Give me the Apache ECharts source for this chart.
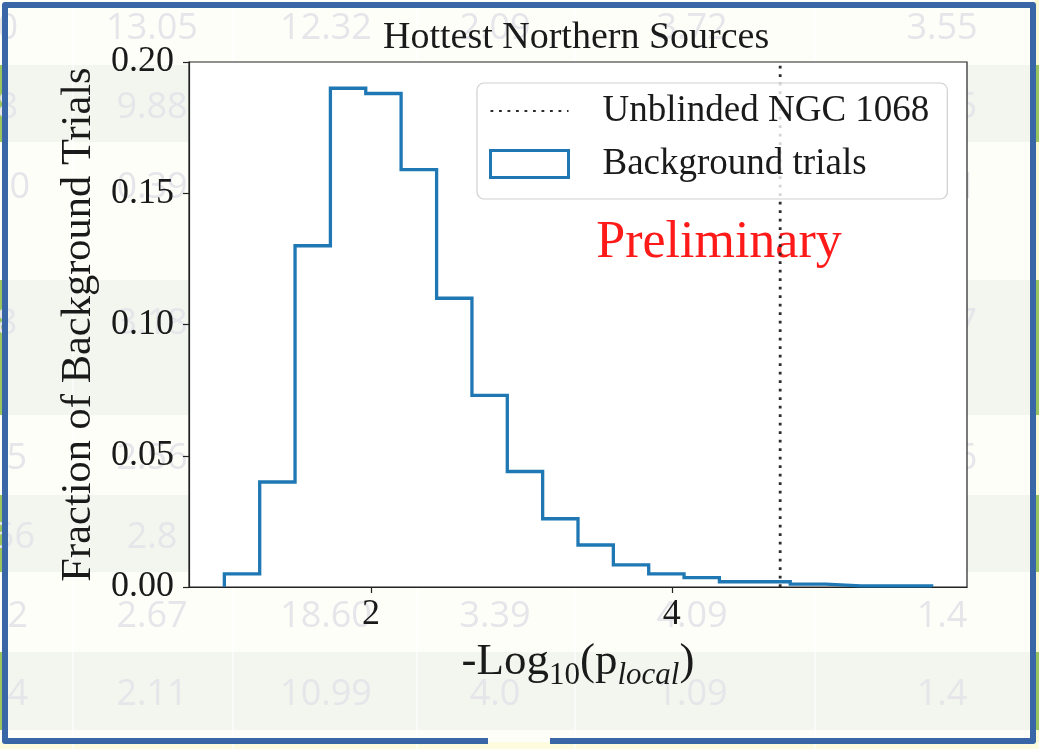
<!DOCTYPE html>
<html>
<head>
<meta charset="utf-8">
<script src="https://cdn.jsdelivr.net/npm/echarts@6/dist/echarts.min.js"></script>
<style>
  html, body { margin: 0; padding: 0; background: #fefef9; }
  #chart { width: 1039px; height: 749px; }
</style>
</head>
<body>
<div id="chart"></div>
<script>
// ---- histogram of background trials (fraction per bin) ----
const binEdges = [1.025, 1.260, 1.495, 1.730, 1.965, 2.200, 2.436, 2.671, 2.906, 3.141,
                  3.376, 3.611, 3.846, 4.081, 4.316, 4.552, 4.787, 5.022, 5.257, 5.492, 5.727];
const bgFraction = [0.005, 0.040, 0.130, 0.190, 0.188, 0.159, 0.110, 0.073, 0.044, 0.026,
                    0.016, 0.0084, 0.005, 0.0036, 0.002, 0.002, 0.0011, 0.0004, 0.0004, 0.0004];
const ngc1068Value = 4.72;
const xTickValues = [2, 4];
const seriesNames = ['Unblinded NGC 1068', 'Background trials'];
const titleText = 'Hottest Northern Sources';
const watermarkText = 'Preliminary';

// ---- slide table that sits behind the figure ----
const tableRows = [
  ['0',  '13.05', '12.32', '2.09', '3.72', '3.55'],
  ['8',  '9.88',  '',      '',     '',     '5'],
  ['0',  '0.39',  '',      '',     '',     '1'],
  ['8',  '3.18',  '',      '',     '',     '7'],
  ['5',  '2.56',  '',      '',     '',     '6'],
  ['56', '2.8',   '',      '',     '',     ''],
  ['2',  '2.67',  '18.60', '3.39', '4.09', '1.4'],
  ['4',  '2.11',  '10.99', '4.0',  '1.09', '1.4']
];

// layout of the slide table (pixels)
const rowCenterY = [29, 108, 188, 324, 459, 538, 617, 695];
const firstColRight = [18, 18, 30, 17, 27, 35, 28, 28];
const colCenterX = [null, 152, 326, 495, 692, 942];
const lastColRight = 977;
const bandRanges = [[65, 142], [280, 415], [495, 572], [652, 730]];
const colRules = [73, 233, 417, 575, 815];

const serif = "'Liberation Serif', 'DejaVu Serif', serif";
const ink = '#1a1a1a';

// step outline of the histogram, matplotlib "step" style
function stepOutline(edges, heights) {
  const pts = [[edges[0], 0]];
  heights.forEach((h, i) => {
    pts.push([edges[i], h]);
    pts.push([edges[i + 1], h]);
  });
  pts.push([edges[edges.length - 1], 0]);
  return pts;
}

// background graphics: table bands, faded numbers, blue frame
function slideGraphics() {
  const els = [];
  bandRanges.forEach(([y0, y1]) => {
    els.push({ type: 'rect', z: -20, silent: true,
      shape: { x: 0, y: y0, width: 1039, height: y1 - y0 },
      style: { fill: '#f3f6ee' } });
    // coloured row markers peeking out at the slide edges
    els.push({ type: 'rect', z: -20, silent: true,
      shape: { x: 0, y: y0, width: 3, height: y1 - y0 }, style: { fill: '#9cc45e' } });
    els.push({ type: 'rect', z: -20, silent: true,
      shape: { x: 1035, y: y0, width: 4, height: y1 - y0 }, style: { fill: '#9cc45e' } });
  });
  els.push({ type: 'rect', z: -21, silent: true,
    shape: { x: 1035, y: 0, width: 4, height: 749 }, style: { fill: '#fbf9d2' } });
  els.push({ type: 'rect', z: -21, silent: true,
    shape: { x: 0, y: 742, width: 1039, height: 7 }, style: { fill: '#fdfcdf' } });
  colRules.forEach(x => {
    els.push({ type: 'line', z: -19, silent: true,
      shape: { x1: x, y1: 0, x2: x, y2: 749 },
      style: { stroke: '#ffffff', lineWidth: 1.2 } });
  });
  tableRows.forEach((row, r) => {
    row.forEach((txt, c) => {
      if (!txt) return;
      let x, align;
      if (c === 0) { x = firstColRight[r]; align = 'right'; }
      else if (c === row.length - 1 && txt.length === 1) { x = lastColRight; align = 'right'; }
      else { x = colCenterX[c]; align = 'center'; }
      els.push({ type: 'text', z: -18, silent: true, x: x, y: rowCenterY[r],
        style: { text: txt, fill: '#e5e5ea', font: "36px 'Open Sans', sans-serif",
                 align: align, verticalAlign: 'middle' } });
    });
  });
  // frame around the slide region, open at the bottom
  els.push({ type: 'polyline', z: -10, silent: true,
    shape: { points: [[488, 741], [5, 741], [5, 5], [1033, 5], [1033, 741], [550, 741]] },
    style: { stroke: '#3966a7', lineWidth: 6, fill: null, lineJoin: 'round' } });
  // watermark inside the axes
  els.push({ type: 'text', z: 1, silent: true, x: 719, y: 243,
    style: { text: watermarkText, fill: '#ff1a1a', font: '52px ' + serif,
             align: 'center', verticalAlign: 'middle' } });
  return els;
}

const chart = echarts.init(document.getElementById('chart'), null, { renderer: 'canvas' });

chart.setOption({
  animation: false,
  backgroundColor: 'transparent',
  title: {
    text: titleText,
    left: 383,
    top: 19,
    padding: 0,
    textStyle: { fontFamily: serif, fontSize: 38, fontWeight: 'normal', color: ink }
  },
  grid: {
    left: 189, right: 72, top: 62, bottom: 162,
    show: true, backgroundColor: '#ffffff', borderColor: '#222', borderWidth: 1.2
  },
  legend: {
    orient: 'vertical',
    left: 477, top: 83,
    padding: [8, 18, 15, 12],
    itemWidth: 78, itemHeight: 27, itemGap: 13,
    backgroundColor: 'rgba(255,255,255,0.8)',
    borderColor: '#d0d0d0', borderWidth: 1.2, borderRadius: 7,
    textStyle: { fontFamily: serif, fontSize: 37, color: ink, lineHeight: 40, padding: [0, 0, 0, 29] },
    data: [
      { name: seriesNames[0], itemStyle: { opacity: 0 } },
      { name: seriesNames[1], icon: 'rect',
        itemStyle: { color: '#ffffff', borderColor: '#1f77b4', borderWidth: 3 } }
    ]
  },
  xAxis: {
    type: 'value',
    min: 0.79, max: 5.962,
    name: '{m|-Log}{s|10}{m|(p}{i|local}{m|)}',
    nameLocation: 'middle',
    nameGap: 48,
    nameTextStyle: {
      rich: {
        m: { fontFamily: serif, fontSize: 45, color: ink, lineHeight: 56, verticalAlign: 'bottom', padding: [0, 0, 6, 0] },
        s: { fontFamily: serif, fontSize: 31, color: ink, lineHeight: 56, verticalAlign: 'bottom' },
        i: { fontFamily: serif, fontSize: 31, fontStyle: 'italic', color: ink, lineHeight: 56, verticalAlign: 'bottom' }
      }
    },
    axisLine: { show: true, lineStyle: { color: '#222', width: 1.2 } },
    axisTick: { show: true, inside: false, length: 6, customValues: xTickValues, lineStyle: { color: '#222', width: 1.2 } },
    axisLabel: { customValues: xTickValues, margin: 10, fontFamily: serif, fontSize: 36, color: ink },
    splitLine: { show: false }
  },
  yAxis: {
    type: 'value',
    min: 0, max: 0.2, interval: 0.05,
    name: 'Fraction of Background Trials',
    nameLocation: 'middle',
    nameGap: 86,
    nameTextStyle: { fontFamily: serif, fontSize: 42.5, color: ink },
    axisLine: { show: true, lineStyle: { color: '#222', width: 1.2 } },
    axisTick: { show: true, inside: false, length: 6, lineStyle: { color: '#222', width: 1.2 } },
    axisLabel: { margin: 15, fontFamily: serif, fontSize: 36, color: ink,
                 formatter: v => v.toFixed(2) },
    splitLine: { show: false }
  },
  graphic: { elements: slideGraphics() },
  series: [
    {
      name: seriesNames[0],
      type: 'line',
      data: [[ngc1068Value, 0], [ngc1068Value, 0.2]],
      symbol: 'none',
      z: 3,
      lineStyle: { color: '#2b2b2b', width: 2.8, type: [2.8, 5.7], cap: 'butt' }
    },
    {
      name: seriesNames[1],
      type: 'line',
      data: stepOutline(binEdges, bgFraction),
      symbol: 'none',
      z: 2,
      lineStyle: { color: '#1f77b4', width: 3.3, join: 'miter' }
    }
  ]
});
</script>
</body>
</html>
